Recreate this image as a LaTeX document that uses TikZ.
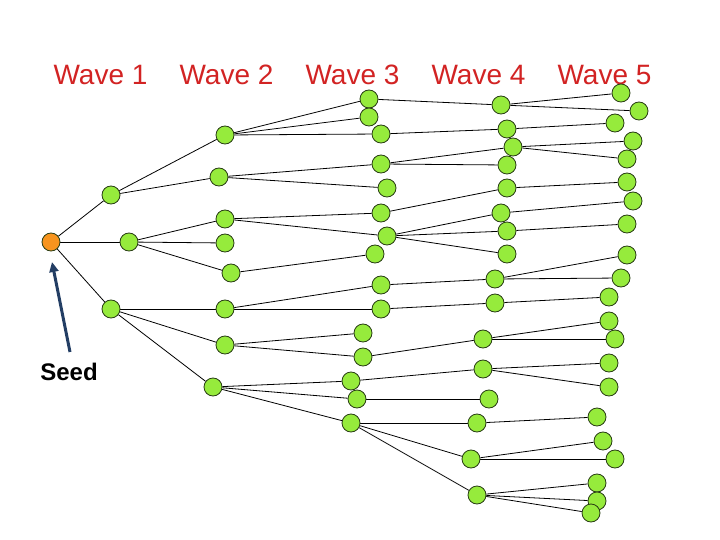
\documentclass[tikz,border=0pt]{standalone}
\usepackage{fontspec}
\setmainfont{Liberation Sans}
\usepackage{tikz}
\usetikzlibrary{arrows.meta}
\usetikzlibrary{backgrounds}
\usepackage{xcolor}

\definecolor{wavered}{RGB}{210,35,35}
\definecolor{leafgreen}{RGB}{150,235,60}
\definecolor{seedorange}{RGB}{247,148,30}
\definecolor{rimdark}{RGB}{40,60,20}
\definecolor{arrowblue}{RGB}{35,62,100}

\begin{document}
\begin{tikzpicture}[x=1pt, y=-1pt]
        % ================= 样式定义 =================
        \tikzset{
            % 节点样式:绿底深边圆圈
            wnode/.style={circle, draw=rimdark, line width=0.8pt, fill=leafgreen, minimum size=18pt, inner sep=0pt},
            % 种子节点:橙色
            snode/.style={wnode, fill=seedorange},
            % 普通连线
            edge/.style={line width=0.8pt, black},
            % 标题文字
            wavelabel/.style={text=wavered, font=\fontsize{28}{32}\selectfont}
        }
        \useasboundingbox (0,0) rectangle (720,540);

        % ================= 标题 =================
        \foreach \i in {1,...,5} {
            \node[wavelabel] (w\i) at ({100.5+126*(\i-1)}, 75) {Wave \i};
        }

        % ================= 种子与第一波 =================
        \node[snode] (s) at (51,242) {};
        \foreach \n/\x/\y in {a1/111/195, a2/129/242, a3/111/309} {
            \node[wnode] (\n) at (\x,\y) {};
        }

        % ================= 第二波 =================
        \foreach \n/\x/\y in {b1/225/135, b2/219/177, b3/225/219, b4/225/243,
                              b5/231/273, b6/225/309, b7/225/345, b8/213/387} {
            \node[wnode] (\n) at (\x,\y) {};
        }

        % ================= 第三波 =================
        \foreach \n/\x/\y in {c1/369/99, c2/369/117, c3/381/134, c4/381/164,
                              c5/387/188, c6/381/213, c7/387/236, c8/375/254,
                              c9/381/285, c10/381/309, c11/363/333, c12/363/357,
                              c13/351/381, c14/357/399, c15/351/423} {
            \node[wnode] (\n) at (\x,\y) {};
        }

        % ================= 第四波 =================
        \foreach \n/\x/\y in {d1/501/105, d2/507/129, d3/513/147, d4/507/165,
                              d5/507/188, d6/501/213, d7/507/231, d8/507/254,
                              d9/495/279, d10/495/303, d11/483/339, d12/483/369,
                              d13/489/399, d14/477/423, d15/471/459, d16/477/495} {
            \node[wnode] (\n) at (\x,\y) {};
        }

        % ================= 第五波 =================
        \foreach \n/\x/\y in {e1/621/93, e2/639/111, e3/615/123, e4/633/141,
                              e5/627/159, e6/627/182, e7/633/201, e8/627/224,
                              e9/627/255, e10/621/278, e11/609/297, e12/609/321,
                              e13/615/339, e14/609/363, e15/609/387, e16/597/417,
                              e17/603/441, e18/615/459, e19/597/483, e20/597/501,
                              e21/591/513} {
            \node[wnode] (\n) at (\x,\y) {};
        }

        % ================= 连线 (放在底层) =================
        \begin{pgfonlayer}{background}
            \foreach \u/\v in {s/a1, s/a2, s/a3,
                               a1/b1, a1/b2, a2/b3, a2/b4, a2/b5, a3/b6, a3/b7, a3/b8,
                               b1/c1, b1/c2, b1/c3, b2/c4, b2/c5, b3/c6, b3/c7, b5/c8,
                               b6/c9, b6/c10, b7/c11, b7/c12, b8/c13, b8/c14, b8/c15,
                               c1/d1, c3/d2, c4/d3, c4/d4, c6/d5, c7/d6, c7/d7, c7/d8,
                               c9/d9, c10/d10, c12/d11, c13/d12, c14/d13,
                               c15/d14, c15/d15, c15/d16,
                               d1/e1, d1/e2, d2/e3, d3/e4, d3/e5, d5/e6, d6/e7, d7/e8,
                               d9/e9, d9/e10, d10/e11, d11/e12, d11/e13, d12/e14, d12/e15,
                               d14/e16, d15/e17, d15/e18, d16/e19, d16/e20, d16/e21} {
                \draw[edge] (\u) -- (\v);
            }
        \end{pgfonlayer}

        % ================= 种子标注 =================
        \node[font=\fontsize{24}{28}\selectfont\bfseries] (seedlbl) at (69,372) {Seed};
        \coordinate (arrtail) at (70,352);
        \coordinate (arrtip) at (52,262);
        \draw[arrowblue, line width=3pt, -{Triangle[width=9pt, length=10pt]}] (arrtail) -- (arrtip);

    \end{tikzpicture}
\end{document}
